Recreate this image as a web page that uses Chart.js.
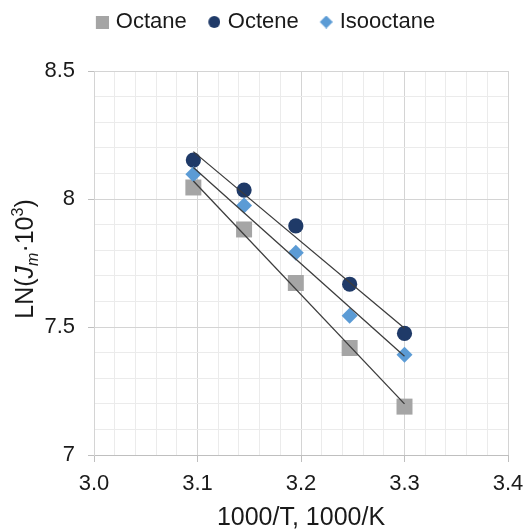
<!DOCTYPE html>
<html>
<head>
<meta charset="utf-8">
<script src="https://cdn.jsdelivr.net/npm/chart.js@4.4.1/dist/chart.umd.min.js"></script>
<style>
  html, body { margin: 0; padding: 0; background: #fff; }
</style>
</head>
<body>
<canvas id="chart" width="526" height="531"></canvas>
<script>
// --- DATA ---
const invTemp = [3.096, 3.145, 3.195, 3.247, 3.300];     // 1000/T
const octane = [8.045, 7.881, 7.672, 7.418, 7.189];
const octene = [8.152, 8.035, 7.895, 7.667, 7.475];
const isooctane = [8.097, 7.975, 7.790, 7.544, 7.392];
const seriesNames = ['Octane', 'Octene', 'Isooctane'];
const xTickLabels = ['3.0', '3.1', '3.2', '3.3', '3.4'];
const yTickLabels = ['7', '7.5', '8', '8.5'];

const FONT = '"Liberation Sans", Arial, sans-serif';
const TEXT = '#1a1a1a';
const colors = { octane: '#a5a5a5', octene: '#1f3a68', isooctane: '#5b9bd5' };

// least squares trend line, drawn between first and last x
function trend(xs, ys) {
    const n = xs.length;
    const mx = xs.reduce((a, b) => a + b, 0) / n;
    const my = ys.reduce((a, b) => a + b, 0) / n;
    let sxy = 0, sxx = 0;
    xs.forEach((x, i) => { sxy += (x - mx) * (ys[i] - my); sxx += (x - mx) * (x - mx); });
    const b = sxy / sxx, a = my - b * mx;
    return [xs[0], xs[n - 1]].map(x => ({ x, y: a + b * x }));
}
const pts = ys => invTemp.map((x, i) => ({ x, y: ys[i] }));

// legend markers: marker sits at the right of a wider image so the text gap is tighter
function marker(kind, size, color) {
    const pad = 4;
    const c = document.createElement('canvas');
    c.width = size + pad; c.height = size;
    const g = c.getContext('2d');
    g.fillStyle = color;
    g.translate(pad, 0);
    if (kind === 'square') g.fillRect(0, 0, size, size);
    if (kind === 'circle') { g.beginPath(); g.arc(size / 2, size / 2, size / 2, 0, Math.PI * 2); g.fill(); }
    if (kind === 'diamond') {
        g.beginPath(); g.moveTo(size / 2, 0); g.lineTo(size, size / 2);
        g.lineTo(size / 2, size); g.lineTo(0, size / 2); g.closePath(); g.fill();
    }
    return c;
}
const legendMarkers = [marker('square', 13, colors.octane), marker('circle', 12, colors.octene), marker('diamond', 13, colors.isooctane)];

const near = (v, step, base) => {
    const k = Math.round((v - base) / step);
    return Math.abs(v - (base + k * step)) < 1e-6 ? k : -1;
};

// y title with italic J, subscript m and superscript 3
const yTitle = {
    id: 'yTitle',
    afterDraw(chart) {
        const ctx = chart.ctx;
        const parts = [
            { t: 'LN(', f: `25px ${FONT}`, dy: 0 },
            { t: 'J', f: `italic 25px ${FONT}`, dy: 0 },
            { t: 'm', f: `italic 16px ${FONT}`, dy: 5 },
            { t: '·10', f: `25px ${FONT}`, dy: 0 },
            { t: '3', f: `16px ${FONT}`, dy: -10 },
            { t: ')', f: `25px ${FONT}`, dy: 0 }
        ];
        ctx.save();
        let w = 0;
        parts.forEach(p => { ctx.font = p.f; p.w = ctx.measureText(p.t).width; w += p.w; });
        ctx.translate(33, 259);
        ctx.rotate(-Math.PI / 2);
        ctx.fillStyle = TEXT;
        ctx.textBaseline = 'alphabetic';
        let x = -w / 2;
        parts.forEach(p => { ctx.font = p.f; ctx.fillText(p.t, x, p.dy); x += p.w; });
        ctx.restore();
    }
};

const fitStyle = { type: 'line', showLine: true, borderColor: '#3c3c3c', borderWidth: 1.3, pointRadius: 0, fill: false, order: 0 };

new Chart(document.getElementById('chart'), {
    type: 'scatter',
    data: {
        datasets: [
            { ...fitStyle, label: 'fitOctane', data: trend(invTemp, octane) },
            { ...fitStyle, label: 'fitOctene', data: trend(invTemp, octene) },
            { ...fitStyle, label: 'fitIsooctane', data: trend(invTemp, isooctane) },
            { label: seriesNames[0], data: pts(octane), pointStyle: 'rect', pointRadius: 11.3, backgroundColor: colors.octane, borderWidth: 0, order: 3 },
            { label: seriesNames[1], data: pts(octene), pointStyle: 'circle', pointRadius: 7.6, backgroundColor: colors.octene, borderWidth: 0, order: 2 },
            { label: seriesNames[2], data: pts(isooctane), pointStyle: 'rectRot', pointRadius: 8, backgroundColor: colors.isooctane, borderWidth: 0, order: 1 }
        ]
    },
    options: {
        responsive: false,
        animation: false,
        layout: { padding: { top: -10, left: 5, right: 0, bottom: 0 } },
        plugins: {
            tooltip: { enabled: false },
            legend: {
                position: 'top',
                labels: {
                    usePointStyle: true,
                    pointStyleWidth: 9,
                    boxHeight: 13,
                    padding: 21,
                    color: TEXT,
                    font: { family: FONT, size: 22 },
                    generateLabels(chart) {
                        const items = Chart.defaults.plugins.legend.labels.generateLabels(chart);
                        items.forEach(it => {
                            const k = seriesNames.indexOf(it.text);
                            if (k >= 0) it.pointStyle = legendMarkers[k];
                        });
                        return items;
                    },
                    filter: it => seriesNames.includes(it.text),
                    sort: (a, b) => seriesNames.indexOf(a.text) - seriesNames.indexOf(b.text)
                }
            }
        },
        scales: {
            x: {
                type: 'linear', min: 3.0, max: 3.4,
                afterFit: s => { s.height = 76; s.paddingRight = 10; s.paddingLeft = 10; },
                ticks: {
                    stepSize: 0.02, autoSkip: false, maxRotation: 0, padding: 9,
                    color: TEXT, font: { family: FONT, size: 22 },
                    callback: v => { const k = near(v, 0.1, 3.0); return k >= 0 ? xTickLabels[k] : ''; }
                },
                grid: {
                    color: c => near(c.tick.value, 0.1, 3.0) >= 0 ? '#d4d4d4' : '#ebebeb',
                    tickColor: c => near(c.tick.value, 0.1, 3.0) >= 0 ? '#bfbfbf' : 'rgba(0,0,0,0)',
                    tickLength: 7
                },
                border: { color: '#bfbfbf' },
                title: { display: true, text: '1000/T, 1000/K', color: TEXT, font: { family: FONT, size: 25, lineHeight: 1 }, padding: 0 }
            },
            xTopGap: {
                type: 'linear', position: 'top', display: true,
                afterFit: s => { s.height = 28; },
                ticks: { display: false },
                grid: { display: false, drawTicks: false },
                border: { display: false }
            },
            y: {
                type: 'linear', min: 7, max: 8.5,
                afterFit: s => { s.width = 89; },
                ticks: {
                    stepSize: 0.1, autoSkip: false, padding: 13,
                    color: TEXT, font: { family: FONT, size: 22 },
                    callback: v => { const k = near(v, 0.5, 7); return k >= 0 ? yTickLabels[k] : ''; }
                },
                grid: {
                    color: c => near(c.tick.value, 0.5, 7) >= 0 ? '#d4d4d4' : '#ebebeb',
                    tickColor: c => near(c.tick.value, 0.5, 7) >= 0 ? '#bfbfbf' : 'rgba(0,0,0,0)',
                    tickLength: 6
                },
                border: { color: '#d4d4d4' }
            },
            yRightGap: {
                type: 'linear', position: 'right', display: true,
                afterFit: s => { s.width = 18; },
                ticks: { display: false },
                grid: { display: false, drawTicks: false },
                border: { display: false }
            }
        }
    },
    plugins: [yTitle]
});
</script>
</body>
</html>
